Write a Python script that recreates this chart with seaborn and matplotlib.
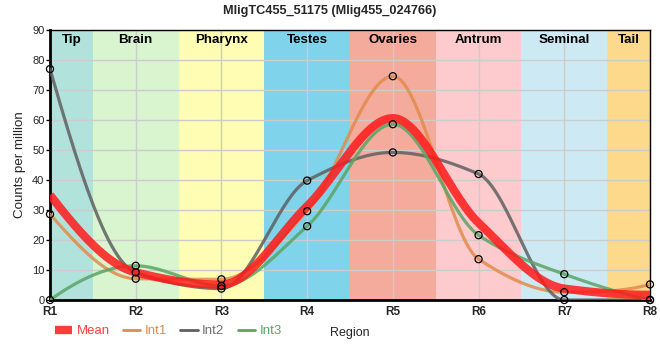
import numpy as np
import pandas as pd
import seaborn as sns
import matplotlib
matplotlib.use('Agg')
import matplotlib.pyplot as plt
from matplotlib.lines import Line2D

# values
samples = ['R1', 'R2', 'R3', 'R4', 'R5', 'R6', 'R7', 'R8']
mean_vals = [35.0, 9.2, 5.1, 31.3, 60.6, 25.7, 3.8, 1.7]
int1_vals = [28.6, 7.1, 6.9, 29.6, 74.6, 13.6, 2.6, 5.2]
int2_vals = [77.0, 9.2, 3.8, 39.8, 49.2, 42.0, 0.0, 0.0]
int3_vals = [0.0, 11.4, 4.7, 24.6, 58.6, 21.6, 8.6, 0.0]

regions = ['Tip', 'Brain', 'Pharynx', 'Testes', 'Ovaries', 'Antrum', 'Seminal', 'Tail']
region_colors = ['#b2e2dc', '#d8f5cf', '#fefdb3', '#7fd3ea', '#f4ab9c', '#fdcbcd', '#cdeaf4', '#fcd98b']

series_colors = {'Int1': '#e08c4c', 'Int2': '#606060', 'Int3': '#5aa466'}
mean_color = '#ff1a1a'


def pchip(x, y, xs):
    # monotone cubic (Fritsch-Carlson), same as a d3 monotone curve
    x = np.asarray(x, float)
    y = np.asarray(y, float)
    h = np.diff(x)
    d = np.diff(y) / h
    n = len(x)
    m = np.zeros(n)
    for k in range(1, n - 1):
        if d[k - 1] * d[k] > 0:
            w1 = 2 * h[k] + h[k - 1]
            w2 = h[k] + 2 * h[k - 1]
            m[k] = (w1 + w2) / (w1 / d[k - 1] + w2 / d[k])

    def end_slope(h0, h1, d0, d1):
        s = ((2 * h0 + h1) * d0 - h0 * d1) / (h0 + h1)
        if np.sign(s) != np.sign(d0):
            s = 0.0
        elif np.sign(d0) != np.sign(d1) and abs(s) > abs(3 * d0):
            s = 3 * d0
        return s

    m[0] = end_slope(h[0], h[1], d[0], d[1])
    m[-1] = end_slope(h[-1], h[-2], d[-1], d[-2])

    idx = np.clip(np.searchsorted(x, xs) - 1, 0, n - 2)
    t = (xs - x[idx]) / h[idx]
    h00 = 2 * t**3 - 3 * t**2 + 1
    h10 = t**3 - 2 * t**2 + t
    h01 = -2 * t**3 + 3 * t**2
    h11 = t**3 - t**2
    return h00 * y[idx] + h10 * h[idx] * m[idx] + h01 * y[idx + 1] + h11 * h[idx] * m[idx + 1]


pos = np.arange(1, len(samples) + 1)
xs = np.linspace(1, len(samples), 400)

curves = []
points = []
for name, vals in [('Int1', int1_vals), ('Int2', int2_vals), ('Int3', int3_vals)]:
    curves.append(pd.DataFrame({'x': xs, 'y': pchip(pos, vals, xs), 'series': name}))
    points.append(pd.DataFrame({'x': pos, 'y': vals, 'series': name}))
curve_df = pd.concat(curves, ignore_index=True)
point_df = pd.concat(points, ignore_index=True)
mean_df = pd.DataFrame({'x': xs, 'y': pchip(pos, mean_vals, xs)})

sns.set_style('white')
plt.rcParams['font.family'] = ['Liberation Sans', 'DejaVu Sans']

fig = plt.figure(figsize=(6.6, 3.6), dpi=100)
ax = fig.add_axes([50 / 660, 60 / 360, 600 / 660, 270 / 360])

xmin, xmax = pos[0], pos[-1]

# tissue bands, label centred on the visible part of each band
for i, (reg, col) in enumerate(zip(regions, region_colors)):
    lo = max(pos[i] - 0.5, xmin)
    hi = min(pos[i] + 0.5, xmax)
    ax.axvspan(lo, hi, color=col, lw=0, zorder=0.1)
    ax.text((lo + hi) / 2, 0.962, reg, transform=ax.get_xaxis_transform(), ha='center', va='center',
            fontsize=9.6, fontweight='bold', color='black', zorder=6)

sns.lineplot(data=curve_df, x='x', y='y', hue='series', palette=series_colors, estimator=None,
             sort=False, linewidth=2.3, alpha=0.85, legend=False, ax=ax, zorder=3)
sns.lineplot(data=mean_df, x='x', y='y', color=mean_color, estimator=None, sort=False,
             linewidth=6, alpha=0.85, legend=False, ax=ax, zorder=4, solid_capstyle='butt')
sns.scatterplot(data=point_df, x='x', y='y', facecolor='none', edgecolor='black', s=26,
                linewidth=0.9, legend=False, ax=ax, zorder=5, clip_on=False)

ax.set_xlim(xmin, xmax)
ax.set_ylim(0, 90)
ax.set_xticks(pos)
ax.set_xticklabels(samples, fontsize=8.5, fontweight='bold')
ax.set_yticks(np.arange(0, 91, 10))
ax.tick_params(axis='y', labelsize=8, length=3, width=1, pad=1, color='black', left=True)
ax.tick_params(axis='x', length=0, pad=4)
ax.set_axisbelow(True)
ax.grid(True, color='#cccccc', linewidth=1)

for side in ['left', 'bottom']:
    ax.spines[side].set_linewidth(2)
    ax.spines[side].set_color('black')
for side in ['top', 'right']:
    ax.spines[side].set_linewidth(1)
    ax.spines[side].set_color('black')

ax.set_ylabel('Counts per million', fontsize=9.6)
ax.yaxis.set_label_coords(-0.04, 0.5)
ax.set_xlabel('Region', fontsize=9)
ax.xaxis.set_label_coords(0.5, -0.1)

fig.suptitle('MligTC455_51175 (Mlig455_024766)', fontsize=9.2, fontweight='bold', y=0.985, va='top')

handles = [Line2D([], [], color=mean_color, lw=6, alpha=0.85, solid_capstyle='butt'),
           Line2D([], [], color=series_colors['Int1'], lw=2),
           Line2D([], [], color=series_colors['Int2'], lw=2),
           Line2D([], [], color=series_colors['Int3'], lw=2)]
labels = ['Mean', 'Int1', 'Int2', 'Int3']
fig.legend(handles, labels, loc='center left', bbox_to_anchor=(55 / 660, 1 - 331 / 360), ncol=4,
           frameon=False, fontsize=9.5, handlelength=1.3, handletextpad=0.35, columnspacing=1.0,
           borderpad=0, borderaxespad=0,
           labelcolor=['#ff4040', series_colors['Int1'], '#707070', series_colors['Int3']])

fig.savefig('out.png', dpi=100)
